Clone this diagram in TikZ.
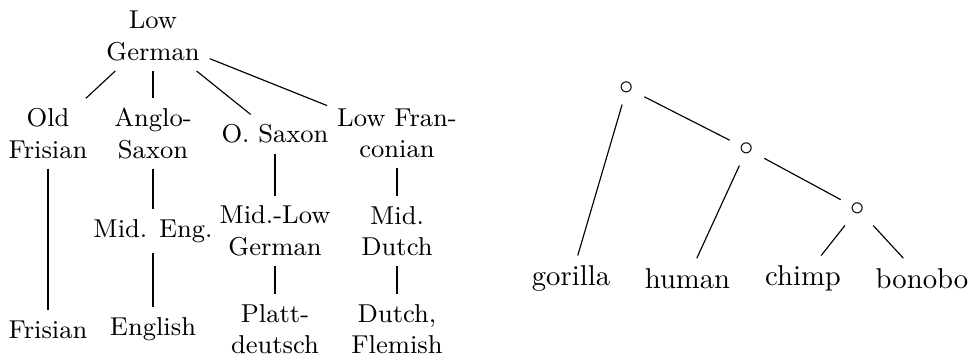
\documentclass[tikz,border=0pt]{standalone}
\begin{document}
\begin{tikzpicture}[x=0.3484pt,y=-0.3484pt,
  lang/.style={font=\small,align=center},
  inner/.style={},
  leaf/.style={}]
\useasboundingbox (0,0) rectangle (974,358);
% Family tree of the Low German languages
\node[lang] (lg)   at (153,36)  {Low\\German};
\node[lang] (ofr)  at (48,133.5) {Old\\Frisian};
\node[lang] (as)   at (153,133.5) {Anglo-\\Saxon};
\node[lang] (osx)  at (275,134) {O. Saxon};
\node[lang] (lfr)  at (397,133.5) {Low Fran-\\conian};
\node[lang] (me)   at (153,231) {Mid. Eng.};
\node[lang] (mlg)  at (275,231) {Mid.-Low\\German};
\node[lang] (md)   at (397,231) {Mid.\\Dutch};
\node[lang] (fris) at (48,329.5) {Frisian};
\node[lang] (eng)  at (153,329) {English};
\node[lang] (pd)   at (275,329) {Platt-\\deutsch};
\node[lang] (df)   at (397,329) {Dutch,\\Flemish};
\draw (lg) -- (ofr);
\draw (lg) -- (as);
\draw (lg) -- (osx);
\draw (lg) -- (lfr);
\draw (ofr) -- (fris);
\draw (as) -- (me) -- (eng);
\draw (osx) -- (mlg) -- (pd);
\draw (lfr) -- (md) -- (df);
% Phylogeny of the great apes
\node[inner] (c1) at (627,88)  {$\circ$};
\node[inner] (c2) at (747,149) {$\circ$};
\node[inner] (c3) at (858,209) {$\circ$};
\node[leaf] (gor) at (571,278.5) {gorilla};
\node[leaf] (hum) at (687.5,278.5) {human};
\node[leaf] (chi) at (803,278.5) {chimp};
\node[leaf] (bon) at (922,278.5) {bonobo};
\draw (c1) -- (gor);
\draw (c1) -- (c2);
\draw (c2) -- (hum);
\draw (c2) -- (c3);
\draw (c3) -- (chi);
\draw (c3) -- (bon);
\end{tikzpicture}
\end{document}
